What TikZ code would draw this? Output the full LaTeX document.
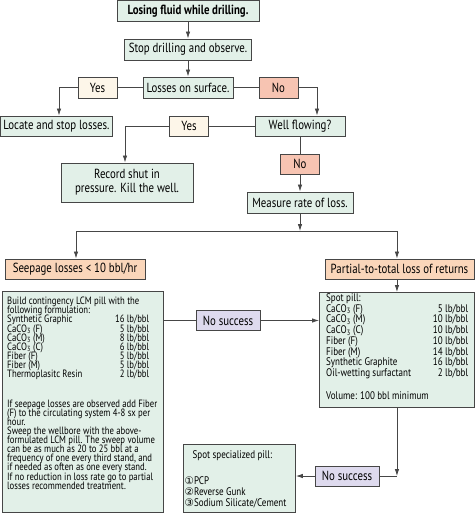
\documentclass[tikz,border=0pt]{standalone}
\usepackage{fontspec}
\setmainfont{PT Sans}[FakeStretch=0.82]
\newfontfamily\circfont{DejaVu Sans}[Scale=0.95]
\usetikzlibrary{arrows.meta,positioning}

\definecolor{boxgreen}{RGB}{226,240,232}
\definecolor{yescream}{RGB}{253,246,233}
\definecolor{nosalmon}{RGB}{247,196,178}
\definecolor{lossorange}{RGB}{250,214,186}
\definecolor{failviolet}{RGB}{222,218,238}
\definecolor{edgegray}{RGB}{70,70,70}

\lineskiplimit=-20pt
\newcommand\pillrow[2]{\makebox[142pt][l]{#1\hfill #2}}

\tikzset{
  box/.style={draw=edgegray, line width=0.9pt, fill=boxgreen, inner sep=0pt,
    minimum height=21pt, font=\fontsize{13.2}{14}\selectfont},
  yesbox/.style={box, fill=yescream, minimum width=39pt},
  nobox/.style={box, fill=nosalmon, minimum width=39pt},
  lossbox/.style={box, fill=lossorange, minimum height=20pt},
  failbox/.style={box, fill=failviolet, minimum width=64pt, minimum height=20pt},
  link/.style={draw=edgegray, line width=0.8pt},
  arr/.style={link, -{Latex[length=7pt,width=4.5pt]}},
  smalltext/.style={align=left, inner sep=0pt},
}

\begin{document}
\begin{tikzpicture}[x=1pt,y=-1pt]
\useasboundingbox (0,0) rectangle (475,521);

\def\xm{188}
\def\xr{300}

% question chain
\node[box, minimum width=142pt, font=\fontsize{13.2}{14}\selectfont\bfseries] (lose) at (\xm,11) {Losing fluid while drilling.};
\node[box, minimum width=127pt] (stop) at (\xm,49.5) {Stop drilling and observe.};
\node[box, minimum width=90pt] (surf) at (\xm,87.5) {Losses on surface.};
\node[yesbox] (yes1) at (97.5,87.5) {Yes};
\node[nobox] (no1) at (278.5,87.5) {No};

\node[box, minimum width=112pt, minimum height=20pt] (locate) at (56.5,126) {Locate and stop losses.};
\node[box, minimum width=90pt, minimum height=20pt] (well) at (\xr,126) {Well flowing?};
\node[yesbox, minimum height=20pt] (yes2) at (189,126) {Yes};
\node[box, minimum width=132pt, minimum height=39pt, align=center, font=\fontsize{13.2}{14}\selectfont] (record) at (127,182.5) {Record shut in\\pressure. Kill the well.};
\node[nobox, minimum height=20pt] (no2) at (\xr,164) {No};
\node[box, minimum width=106pt] (meas) at (\xr,202.5) {Measure rate of loss.};
\coordinate (split) at (\xr,231);

\node[lossbox, minimum width=140pt] (seep) at (75,269) {Seepage losses < 10 bbl/hr};
\node[lossbox, minimum width=149pt] (part) at (399.5,269) {Partial-to-total loss of returns};

% treatment boxes
\node[box, anchor=north west, minimum width=161pt, minimum height=221pt] (cont) at (2,291) {};
\node[smalltext, font=\fontsize{10.6}{9.1}\selectfont, below right=6pt and 5pt of cont.north west] (contTxt) {%
Build contingency LCM pill with the\\
following formulation:\\
\pillrow{Synthetic Graphic}{16 lb/bbl}\\
\pillrow{CaCO\textsubscript{3} (F)}{5 lb/bbl}\\
\pillrow{CaCO\textsubscript{3} (M)}{8 lb/bbl}\\
\pillrow{CaCO\textsubscript{3} (C)}{6 lb/bbl}\\
\pillrow{Fiber (F)}{5 lb/bbl}\\
\pillrow{Fiber (M)}{5 lb/bbl}\\
\pillrow{Thermoplasitc Resin}{2 lb/bbl}\\[20.6pt]
If seepage losses are observed add Fiber\\
(F) to the circulating system 4-8 sx per\\
hour.\\
Sweep the wellbore with the above-\\
formulated LCM pill. The sweep volume\\
can be as much as 20 to 25 bbl at a\\
frequency of one every third stand, and\\
if needed as often as one every stand.\\
If no reduction in loss rate go to partial\\
losses recommended treatment.};

\node[failbox] (ns1) at (228,320.5) {No success};

\node[box, anchor=north west, minimum width=155pt, minimum height=115pt] (spot) at (319,292) {};
\node[smalltext, font=\fontsize{11}{10.7}\selectfont, below right=1.5pt and 7pt of spot.north west] (spotTxt) {%
Spot pill:\\
\pillrow{CaCO\textsubscript{3} (F)}{5 lb/bbl}\\
\pillrow{CaCO\textsubscript{3} (M)}{10 lb/bbl}\\
\pillrow{CaCO\textsubscript{3} (C)}{10 lb/bbl}\\
\pillrow{Fiber (F)}{10 lb/bbl}\\
\pillrow{Fiber (M)}{14 lb/bbl}\\
\pillrow{Synthetic Graphite}{16 lb/bbl}\\
\pillrow{Oil-wetting surfactant}{2 lb/bbl}\\[12.6pt]
Volume: 100 bbl minimum};

\node[failbox] (ns2) at (347,476) {No success};

\node[box, anchor=north west, minimum width=112pt, minimum height=68pt] (special) at (183,444) {};
\node[smalltext, font=\fontsize{11}{11}\selectfont, below right=6.5pt and 1.5pt of special.north west] (specialTxt) {%
\hspace*{8pt}Spot specialized pill:\\[15pt]
{\circfont ①}PCP\\
{\circfont ②}Reverse Gunk\\
{\circfont ③}Sodium Silicate/Cement};

% connectors
\draw[arr] (lose) -- (stop);
\draw[arr] (stop) -- (surf);
\draw[link] (surf) -- (yes1);
\draw[arr] (yes1.west) -| ([xshift=2.5pt]locate.north);
\draw[link] (surf) -- (no1);
\draw[arr] (no1.east) -| ([xshift=17pt]well.north);
\draw[link] (well) -- (yes2);
\draw[arr] (yes2.west) -| ([xshift=-2pt]record.north);
\draw[link] (well) -- (no2);
\draw[arr] (no2) -- (meas);
\draw[arr] (meas) -- (split);
\draw[arr] (split) -| ([xshift=1pt]seep.north);
\draw[arr] (split) -| (part.north -| spot.north);
\draw[arr] (part.south -| spot.north) -- (spot.north);

\draw[link] (cont.east |- ns1.west) -- (ns1);
\draw[arr] (ns1) -- (spot.west |- ns1);
\coordinate (turn) at (spot.south |- ns2);
\draw[arr] (spot.south) -- (turn);
\draw[link] (turn) -- (ns2);
\draw[arr] (ns2) -- (special.east |- ns2);

\end{tikzpicture}
\end{document}
